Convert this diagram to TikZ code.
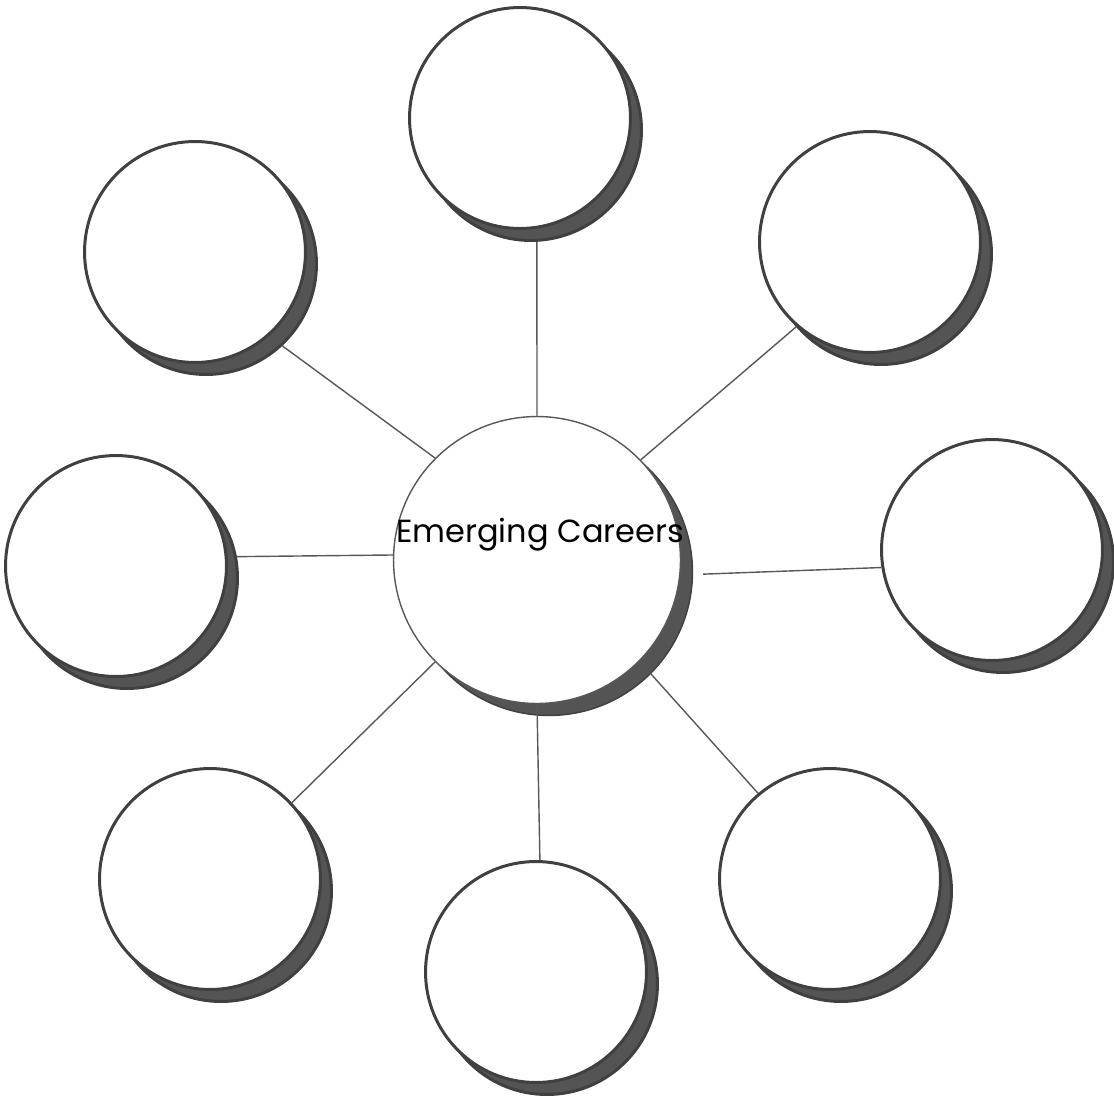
\documentclass[tikz,border=0pt]{standalone}
\usepackage{fontspec}
\setmainfont{Poppins}
\usepackage{xcolor}
\definecolor{RimGrey}{RGB}{64,64,64}
\definecolor{ShadeGrey}{RGB}{84,84,84}
\definecolor{LinkGrey}{RGB}{88,88,88}
\pgfdeclarelayer{shade}
\pgfdeclarelayer{spokes}
\pgfsetlayers{shade,spokes,main}
\tikzset{
  bubble/.style={circle, draw=RimGrey, line width=1.7pt, fill=white, minimum size=4.42cm, inner sep=0pt},
  bubshadow/.style={bubble, fill=ShadeGrey},
  hub/.style={circle, draw=LinkGrey, line width=0.8pt, fill=white, minimum size=5.74cm, inner sep=0pt},
  hubshadow/.style={hub, draw=RimGrey, fill=ShadeGrey},
  link/.style={draw=LinkGrey, line width=0.8pt},
  hubtext/.style={font=\fontsize{18.2}{22}\selectfont, inner sep=0pt},
}
\begin{document}
\begin{tikzpicture}[x=0.02cm, y=-0.02cm]
  \useasboundingbox (0,0) rectangle (1114,1099);
  % faces
  \node[hub] (c) at (537,560) {};
  \node[bubble] (t) at (520,118) {};
  \node[bubble] (tr) at (870,242) {};
  \node[bubble] (r) at (992,550) {};
  \node[bubble] (br) at (830,879) {};
  \node[bubble] (b) at (536,972) {};
  \node[bubble] (bl) at (210,879) {};
  \node[bubble] (l) at (116,566) {};
  \node[bubble] (tl) at (195,252) {};
  \node[hubtext] (title) at (540,535) {Emerging Careers};
  % shadows
  \begin{pgfonlayer}{shade}
    \node[hubshadow] (cs) at (549,572) {};
    \foreach \n/\x/\y in {t/520/118, tr/870/242, r/992/550, br/830/879, b/536/972, bl/210/879, l/116/566, tl/195/252}
      \node[bubshadow] (\n s) at (\x+11,\y+12) {};
  \end{pgfonlayer}
  % spokes
  \begin{pgfonlayer}{spokes}
    \draw[link] (c.90) -- (ts.-87);
    \draw[link] (c.44) -- (tr.-131);
    \draw[link, shorten <=0.2cm] (cs.-1) -- (r.189);
    \draw[link] (cs.-45) -- (br.130);
    \draw[link] (c.-90) -- (b.88);
    \draw[link] (c.-135) -- (bl.43);
    \draw[link] (c.178) -- (ls.11);
    \draw[link] (c.135) -- (tls.-47);
  \end{pgfonlayer}
\end{tikzpicture}
\end{document}
